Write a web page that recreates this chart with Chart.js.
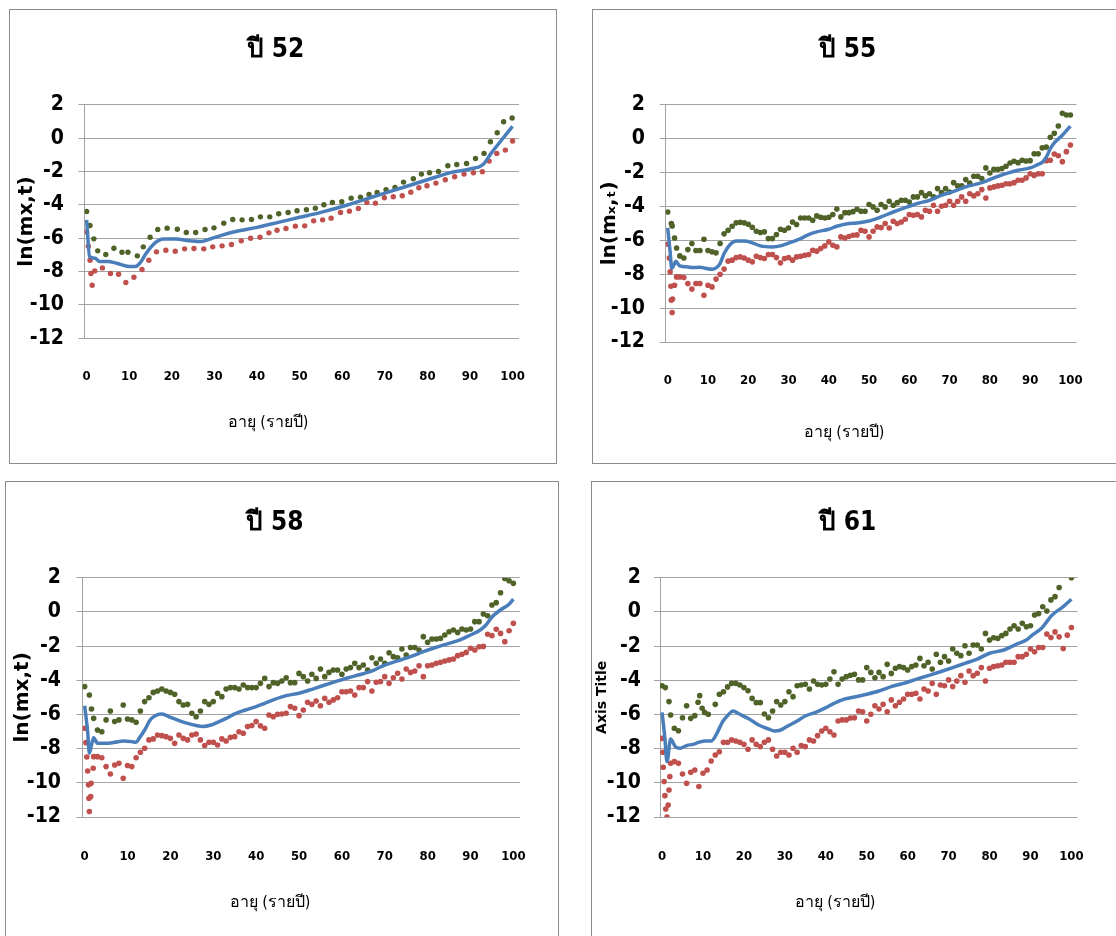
<!DOCTYPE html>
<html>
<head>
<meta charset="utf-8">
<script src="https://cdn.jsdelivr.net/npm/chart.js@4.4.0/dist/chart.umd.min.js"></script>
<style>
  html, body { margin: 0; padding: 0; background: #fff; width: 1116px; height: 936px; overflow: hidden; }
  .panel { position: absolute; border: 1px solid #8c8c8c; box-sizing: border-box; background: #fff; }
  canvas { position: absolute; }
</style>
</head>
<body>
<div class="panel" style="left:9px;top:9px;width:548px;height:455px"></div>
<div class="panel" style="left:592px;top:9px;width:540px;height:455px"></div>
<div class="panel" style="left:5px;top:481px;width:554px;height:470px"></div>
<div class="panel" style="left:591px;top:481px;width:540px;height:470px"></div>
<canvas id="c52" width="546" height="453" style="left:10px;top:10px"></canvas>
<canvas id="c55" width="521" height="453" style="left:593px;top:10px"></canvas>
<canvas id="c58" width="552" height="454" style="left:6px;top:482px"></canvas>
<canvas id="c61" width="524" height="454" style="left:592px;top:482px"></canvas>
<script>
// tick labels
const xTicks = [0, 10, 20, 30, 40, 50, 60, 70, 80, 90, 100];
const yTicks = [-12, -10, -8, -6, -4, -2, 0, 2];

// single ages 0..100
const years = [0,1,2,3,4,5,6,7,8,9,10,11,12,13,14,15,16,17,18,19,20,21,22,23,24,25,26,27,28,29,30,
  31,32,33,34,35,36,37,38,39,40,41,42,43,44,45,46,47,48,49,50,51,52,53,54,55,56,57,58,59,60,
  61,62,63,64,65,66,67,68,69,70,71,72,73,74,75,76,77,78,79,80,81,82,83,84,85,86,87,88,89,90,
  91,92,93,94,95,96,97,98,99,100];

// ---- ปี 52 ----
const upperAge52 = [0,0.8,1.7,2.6,4.5,6.4,8.3,9.7,11.9,13.3,14.9,16.7,18.9,21.3,23.4,25.6,27.8,29.9,32.2,34.3,
  36.5,38.7,40.8,43,45.1,47.3,49.4,51.6,53.7,55.7,57.7,59.9,62.1,64.3,66.3,68.2,70.3,72.4,74.4,76.7,
  78.6,80.5,82.6,84.8,86.9,89.2,91.3,93.3,94.8,96.4,97.9,99.9];
const upperVal52 = [-4.4,-5.24,-6.04,-6.76,-6.98,-6.6,-6.84,-6.84,-7.06,-6.52,-5.94,-5.48,-5.4,-5.46,
  -5.66,-5.66,-5.48,-5.38,-5.1,-4.88,-4.9,-4.88,-4.72,-4.72,-4.54,-4.46,-4.36,-4.3,-4.2,-4.0,
  -3.86,-3.82,-3.6,-3.54,-3.38,-3.26,-3.1,-2.96,-2.64,-2.44,-2.16,-2.08,-2.0,-1.66,-1.58,-1.52,
  -1.22,-0.92,-0.22,0.32,0.98,1.2];
const lowerAge52 = [0,0.4,0.8,1,1.3,1.9,3.7,5.6,7.5,9.2,11.1,13,14.6,16.4,18.6,20.8,23,25.2,27.5,29.6,
  31.8,34,36.3,38.5,40.7,42.8,44.7,46.8,49,51.2,53.3,55.4,57.4,59.6,61.7,63.8,65.8,67.8,69.9,72,
  74.1,76.1,78,79.9,82,84.2,86.4,88.6,90.8,92.9,94.5,96.3,98.3,100];
const lowerVal52 = [-5.62,-6.48,-7.32,-8.12,-8.82,-7.96,-7.78,-8.12,-8.16,-8.66,-8.34,-7.88,-7.32,-6.82,
  -6.72,-6.78,-6.64,-6.62,-6.64,-6.52,-6.46,-6.38,-6.16,-6.0,-5.94,-5.68,-5.52,-5.42,-5.28,-5.26,
  -4.96,-4.9,-4.8,-4.46,-4.38,-4.22,-3.86,-3.9,-3.58,-3.52,-3.46,-3.24,-2.98,-2.86,-2.7,-2.5,
  -2.32,-2.16,-2.08,-2.02,-1.38,-0.92,-0.72,-0.18];
const fitAge52 = [0,0.7,2,3,5,7,10,11.5,12.5,14,16,18,21,24,27,29,32,35,40,45,50,55,60,65,70,75,80,85,90,93,95,97,100];
const fitVal52 = [-4.9,-7.1,-7.2,-7.4,-7.4,-7.5,-7.7,-7.7,-7.5,-6.9,-6.3,-6.05,-6.05,-6.15,-6.2,-6.05,
  -5.8,-5.6,-5.35,-5.05,-4.75,-4.45,-4.1,-3.7,-3.3,-2.9,-2.5,-2.1,-1.85,-1.6,-0.9,-0.25,0.7];

// ---- ปี 55 ----
const upperAge55 = [0,0.9,1.1,1.7,2.2, ...years.slice(3)];
const upperVal55 = [-4.33,-5.01,-5.15,-5.86,-6.45,
  -6.92,-7.04,-6.55,-6.19,-6.6,-6.6,-5.94,-6.6,-6.68,-6.74,
  -6.19,-5.62,-5.41,-5.17,-4.97,-4.94,-4.97,-5.05,-5.23,-5.47,
  -5.54,-5.5,-5.9,-5.9,-5.66,-5.35,-5.41,-5.27,-4.92,-5.07,
  -4.68,-4.68,-4.68,-4.82,-4.56,-4.64,-4.68,-4.64,-4.48,-4.15,
  -4.62,-4.37,-4.37,-4.31,-4.17,-4.29,-4.29,-3.89,-4.03,-4.23,
  -3.89,-4.03,-3.7,-3.93,-3.78,-3.64,-3.64,-3.74,-3.44,-3.44,
  -3.19,-3.38,-3.25,-3.44,-2.95,-3.19,-2.95,-3.15,-2.6,-2.79,
  -2.79,-2.42,-2.62,-2.22,-2.22,-2.36,-1.73,-2.03,-1.81,-1.81,
  -1.77,-1.63,-1.44,-1.34,-1.42,-1.28,-1.32,-1.3,-0.89,-0.89,
  -0.55,-0.5,0.08,0.31,0.74,1.49,1.39,1.39];
const lowerAge55 = [0,0.4,0.6,0.8,0.9,1.1,1.2,1.7,2.2, ...years.slice(3)];
const lowerVal55 = [-6.23,-7.04,-7.86,-8.71,-9.53,-10.26,-9.47,-8.65,-8.16,
  -8.16,-8.2,-8.55,-8.88,-8.55,-8.55,-9.24,-8.65,-8.75,-8.29,
  -8.0,-7.7,-7.23,-7.17,-7.02,-6.98,-7.04,-7.17,-7.27,-6.94,
  -7.02,-7.08,-6.84,-6.84,-7.02,-7.33,-7.08,-7.02,-7.17,-6.98,
  -6.94,-6.88,-6.84,-6.59,-6.64,-6.49,-6.33,-6.09,-6.29,-6.39,
  -5.8,-5.86,-5.78,-5.7,-5.68,-5.41,-5.47,-5.8,-5.47,-5.21,
  -5.25,-5.01,-5.27,-4.88,-5.01,-4.92,-4.76,-4.48,-4.52,-4.48,
  -4.62,-4.23,-4.29,-3.93,-4.29,-3.99,-3.93,-3.7,-3.93,-3.7,
  -3.44,-3.7,-3.25,-3.38,-3.25,-3.01,-3.5,-2.91,-2.85,-2.79,
  -2.75,-2.66,-2.66,-2.6,-2.46,-2.46,-2.32,-2.07,-2.17,-2.07,
  -2.07,-1.3,-1.28,-0.91,-1.01,-1.36,-0.77,-0.38];
const fitAge55 = [0,0.6,1,1.6,2,3,5,6,8,9,11,12,13,14,15.5,17,19,21,23,26,28,30,33,35,37,40,42,45,47,50,
  53,56,59,62,65,68,71,74,78,81,84,87,90,92,93,94,95,96,98,100];
const fitVal55 = [-5.27,-6.68,-7.67,-7.43,-7.23,-7.51,-7.57,-7.61,-7.59,-7.63,-7.71,-7.63,-7.37,-6.78,
  -6.25,-6.04,-6.04,-6.15,-6.33,-6.39,-6.33,-6.17,-5.9,-5.66,-5.5,-5.35,-5.17,-5.01,-4.98,-4.86,
  -4.62,-4.33,-4.07,-3.83,-3.64,-3.34,-3.11,-2.85,-2.6,-2.32,-2.07,-1.87,-1.73,-1.52,-1.4,-1.1,
  -0.6,-0.25,0.2,0.74];

// ---- ปี 58 ----
const upperAge58 = [0,1.1,1.6,2.1, ...years.slice(3)];
const upperVal58 = [-4.37,-4.86,-5.68,-6.23,
  -6.91,-7.01,-6.32,-5.8,-6.42,-6.32,-5.45,-6.27,-6.32,-6.46,
  -5.8,-5.25,-5.02,-4.71,-4.63,-4.51,-4.63,-4.71,-4.82,-5.25,
  -5.45,-5.41,-5.93,-6.13,-5.8,-5.25,-5.41,-5.25,-4.76,-4.96,
  -4.51,-4.43,-4.43,-4.51,-4.28,-4.43,-4.43,-4.43,-4.18,-3.89,
  -4.37,-4.14,-4.18,-4.04,-3.85,-4.14,-4.14,-3.6,-3.79,-4.04,
  -3.65,-3.89,-3.34,-3.79,-3.54,-3.4,-3.4,-3.65,-3.34,-3.26,
  -3.01,-3.26,-3.11,-3.4,-2.68,-3.01,-2.76,-3.01,-2.39,-2.62,
  -2.68,-2.17,-2.52,-2.09,-2.09,-2.23,-1.45,-1.78,-1.59,-1.59,
  -1.55,-1.35,-1.16,-1.06,-1.2,-1.0,-1.06,-1.0,-0.57,-0.57,
  -0.12,-0.23,0.4,0.54,1.12,1.96,1.82,1.67];
const lowerAge58 = [0,0.3,0.5,0.7,0.9,1,1.1,1.4,1.5,2,2.1, ...years.slice(3)];
const lowerVal58 = [-6.81,-7.65,-8.49,-9.31,-10.12,-10.9,-11.68,-10.81,-10.03,-9.15,-8.47,
  -8.47,-8.53,-9.05,-9.48,-8.96,-8.86,-9.74,-8.99,-9.05,-8.53,
  -8.21,-7.98,-7.49,-7.43,-7.2,-7.24,-7.3,-7.4,-7.69,-7.2,
  -7.4,-7.49,-7.2,-7.14,-7.49,-7.82,-7.63,-7.63,-7.79,-7.43,
  -7.55,-7.34,-7.3,-7.01,-7.1,-6.71,-6.65,-6.42,-6.67,-6.81,
  -6.03,-6.13,-5.99,-5.97,-5.93,-5.54,-5.64,-6.07,-5.74,-5.29,
  -5.41,-5.21,-5.49,-5.06,-5.29,-5.15,-5.02,-4.67,-4.67,-4.63,
  -4.86,-4.43,-4.43,-4.08,-4.63,-4.12,-4.08,-3.79,-4.18,-3.85,
  -3.59,-3.93,-3.34,-3.54,-3.46,-3.15,-3.79,-3.15,-3.11,-3.01,
  -2.95,-2.87,-2.81,-2.76,-2.56,-2.48,-2.37,-2.13,-2.23,-2.04,
  -2.02,-1.31,-1.39,-1.02,-1.26,-1.74,-1.1,-0.67];
const fitAge58 = [0,0.7,1.1,1.6,2.1,3,5,7,9,11,12,12.7,14,15.3,16.8,18,20,22,24,26,27.5,29.5,31,33,35,
  37.5,40,42,44,47,50,52.5,55.5,58.5,61.5,64.5,67.5,70,73,76,79,82,85,88,90,92,93.5,95,97,99,100];
const fitVal58 = [-5.49,-7.01,-8.27,-7.79,-7.36,-7.69,-7.69,-7.63,-7.55,-7.59,-7.63,-7.4,-6.91,-6.32,
  -6.03,-5.97,-6.17,-6.36,-6.52,-6.65,-6.71,-6.62,-6.46,-6.23,-5.97,-5.74,-5.54,-5.35,-5.15,-4.9,
  -4.76,-4.57,-4.32,-4.08,-3.85,-3.65,-3.4,-3.11,-2.87,-2.62,-2.33,-2.07,-1.84,-1.59,-1.35,-1.1,
  -0.8,-0.3,0.12,0.45,0.75];

// ---- ปี 61 ----
const upperAge61 = [0,0.8,1.7,2.1,3,4,5,6,7,8,8.8,9.2,9.8,10.4,11.3, ...years.slice(13, 98), 100];
const upperVal61 = [-4.32,-4.43,-5.25,-6.03,-6.81,-6.95,-6.19,-5.49,-6.23,-6.07,-5.29,-4.9,-5.64,-5.88,-5.99,
  -5.41,-4.82,-4.67,-4.39,-4.18,-4.18,-4.28,-4.43,-4.61,-5.06,
  -5.31,-5.31,-5.97,-6.19,-5.8,-5.25,-5.45,-5.25,-4.67,-4.96,
  -4.32,-4.28,-4.24,-4.51,-4.04,-4.24,-4.28,-4.24,-3.93,-3.5,
  -4.24,-3.93,-3.79,-3.71,-3.65,-3.98,-3.98,-3.26,-3.54,-3.85,
  -3.54,-3.79,-3.07,-3.6,-3.3,-3.2,-3.26,-3.4,-3.2,-3.11,
  -2.72,-3.15,-2.95,-3.34,-2.48,-2.95,-2.62,-2.87,-2.17,-2.42,
  -2.56,-1.98,-2.42,-1.94,-1.94,-2.17,-1.26,-1.65,-1.51,-1.55,
  -1.39,-1.26,-1.0,-0.81,-1.0,-0.67,-0.87,-0.81,-0.18,-0.1,
  0.3,0.05,0.7,0.89,1.43,
  2.0];
const lowerAge61 = [0,0.2,0.3,0.5,0.7,0.9,1.2,1.5,1.7,1.9,2.1, ...years.slice(3)];
const lowerVal61 = [-7.4,-8.21,-9.09,-9.93,-10.75,-11.53,-12.0,-11.3,-10.42,-9.64,-8.86,
  -8.76,-8.86,-9.48,-10.03,-9.38,-9.25,-10.22,-9.44,-9.25,-8.72,
  -8.37,-8.18,-7.63,-7.63,-7.49,-7.55,-7.63,-7.75,-8.04,-7.49,
  -7.75,-7.88,-7.63,-7.49,-8.04,-8.43,-8.21,-8.21,-8.37,-7.98,
  -8.21,-7.82,-7.88,-7.49,-7.55,-7.24,-6.97,-6.81,-7.01,-7.2,
  -6.38,-6.32,-6.32,-6.21,-6.19,-5.8,-5.84,-6.38,-5.99,-5.49,
  -5.68,-5.41,-5.84,-5.15,-5.49,-5.29,-5.1,-4.82,-4.82,-4.76,
  -5.1,-4.51,-4.63,-4.18,-4.82,-4.28,-4.32,-3.98,-4.37,-4.04,
  -3.73,-4.12,-3.46,-3.73,-3.59,-3.26,-4.04,-3.3,-3.2,-3.15,
  -3.11,-2.95,-2.95,-2.95,-2.62,-2.62,-2.48,-2.17,-2.33,-2.09,
  -2.09,-1.3,-1.5,-1.17,-1.46,-2.14,-1.36,-0.91];
const fitAge61 = [0,0.7,1.2,2.1,3.2,4.4,6,7.5,9,10.5,12,13.2,14.8,16.3,17.3,19,21.3,23.6,26,27.5,29,30.5,
  33,35,37.5,40,42,44.5,47,50,53,56,59,62,65,68,71,74,77,80,83.5,86.5,89,90.5,92.7,94,95.3,98,100];
const fitVal61 = [-5.88,-7.4,-8.76,-7.43,-7.88,-7.98,-7.82,-7.75,-7.63,-7.55,-7.55,-7.2,-6.42,-5.99,-5.8,
  -5.99,-6.27,-6.62,-6.85,-6.97,-6.91,-6.71,-6.38,-6.09,-5.88,-5.6,-5.35,-5.1,-4.98,-4.82,-4.63,
  -4.37,-4.18,-3.95,-3.73,-3.5,-3.26,-3.01,-2.76,-2.42,-2.23,-1.9,-1.65,-1.35,-0.96,-0.57,-0.18,
  0.31,0.74];

const GREEN = '#4F6228';
const RED = '#C0504D';
const BLUE = '#4A7EBB';
const narrow = "'Liberation Sans Narrow', 'DejaVu Sans Condensed', 'Arial Narrow', sans-serif";

const pairs = (xs, ys) => xs.map((x, i) => ({ x: x, y: ys[i] }));

// x-axis title sits left of the plot centre in the original, so it is drawn by hand
const axisNote = {
  id: 'axisNote',
  afterDraw(chart, args, opts) {
    const ctx = chart.ctx;
    ctx.save();
    ctx.font = '16px ' + narrow;
    ctx.fillStyle = '#000';
    ctx.textAlign = 'center';
    ctx.textBaseline = 'middle';
    ctx.fillText(opts.text, opts.x, opts.y);
    ctx.restore();
  }
};

function makePanel(id, title, yTitle, g, up, low, fit) {
  new Chart(document.getElementById(id), {
    type: 'scatter',
    data: {
      datasets: [
        { data: fit, showLine: true, borderColor: BLUE, borderWidth: 3.5, pointRadius: 0,
          cubicInterpolationMode: 'monotone' },
        { data: up, backgroundColor: GREEN, borderColor: GREEN, borderWidth: 0, pointRadius: g.dot },
        { data: low, backgroundColor: RED, borderColor: RED, borderWidth: 0, pointRadius: g.dot }
      ]
    },
    options: {
      responsive: false,
      animation: false,
      layout: { padding: { left: 0, right: g.padRight, top: 0, bottom: 0 } },
      plugins: {
        legend: { display: false },
        tooltip: { enabled: false },
        title: {
          display: true, text: title, color: '#000',
          font: { family: narrow, size: 26, weight: 'bold' },
          padding: { top: g.titleTop, bottom: g.titleBottom }
        },
        axisNote: { text: 'อายุ (รายปี)', x: g.xtX, y: g.xtY }
      },
      scales: {
        x: {
          type: 'linear', min: -0.5, max: 101.5,
          afterBuildTicks: s => { s.ticks = xTicks.map(v => ({ value: v })); },
          afterFit: s => { s.height = g.xHeight; },
          grid: { display: false, drawTicks: false },
          border: { display: false },
          ticks: { padding: g.xPad, color: '#000', maxRotation: 0, autoSkip: false,
                   font: { family: narrow, size: 13, weight: 'bold' } }
        },
        y: {
          min: -12, max: 2,
          afterBuildTicks: s => { s.ticks = yTicks.map(v => ({ value: v })); },
          afterFit: s => { s.width = g.yWidth; },
          grid: { color: '#a3a3a3', lineWidth: 1, tickLength: 6 },
          border: { display: true, color: '#a3a3a3' },
          ticks: { padding: g.yPad, color: '#000', font: { family: narrow, size: 21, weight: 'bold' } },
          title: { display: true, text: yTitle, color: '#000',
                   font: { family: 'DejaVu Sans', size: g.ytSize, weight: 'bold' },
                   padding: { top: g.ytPad, bottom: 0 } }
        }
      }
    },
    plugins: [axisNote]
  });
}

makePanel('c52', 'ปี 52', 'ln(mx,t)',
  { dot: 2.7, padRight: 15, titleTop: 24.4, titleBottom: 39.1, xHeight: 124.7, xPad: 31,
    yWidth: 74.5, yPad: 14.5, ytSize: 20, ytPad: 5, xtX: 258, xtY: 413 },
  pairs(upperAge52, upperVal52), pairs(lowerAge52, lowerVal52), pairs(fitAge52, fitVal52));

makePanel('c55', 'ปี 55', 'ln(mₓ,ₜ)',
  { dot: 2.8, padRight: 12.2, titleTop: 24.4, titleBottom: 39.1, xHeight: 121, xPad: 31.2,
    yWidth: 72.7, yPad: 14.7, ytSize: 20, ytPad: 4.6, xtX: 251, xtY: 423 },
  pairs(upperAge55, upperVal55), pairs(lowerAge55, lowerVal55), pairs(fitAge55, fitVal55));

makePanel('c58', 'ปี 58', 'ln(mx,t)',
  { dot: 2.8, padRight: 14.4, titleTop: 25.4, titleBottom: 39.1, xHeight: 119, xPad: 32.2,
    yWidth: 76.5, yPad: 15.5, ytSize: 20, ytPad: 5, xtX: 264, xtY: 421 },
  pairs(upperAge58, upperVal58), pairs(lowerAge58, lowerVal58), pairs(fitAge58, fitVal58));

makePanel('c61', 'ปี 61', 'Axis Title',
  { dot: 2.8, padRight: 13, titleTop: 25.4, titleBottom: 39.1, xHeight: 119, xPad: 32.2,
    yWidth: 68, yPad: 13, ytSize: 14, ytPad: 2, xtX: 243, xtY: 421 },
  pairs(upperAge61, upperVal61), pairs(lowerAge61, lowerVal61), pairs(fitAge61, fitVal61));
</script>
</body>
</html>
